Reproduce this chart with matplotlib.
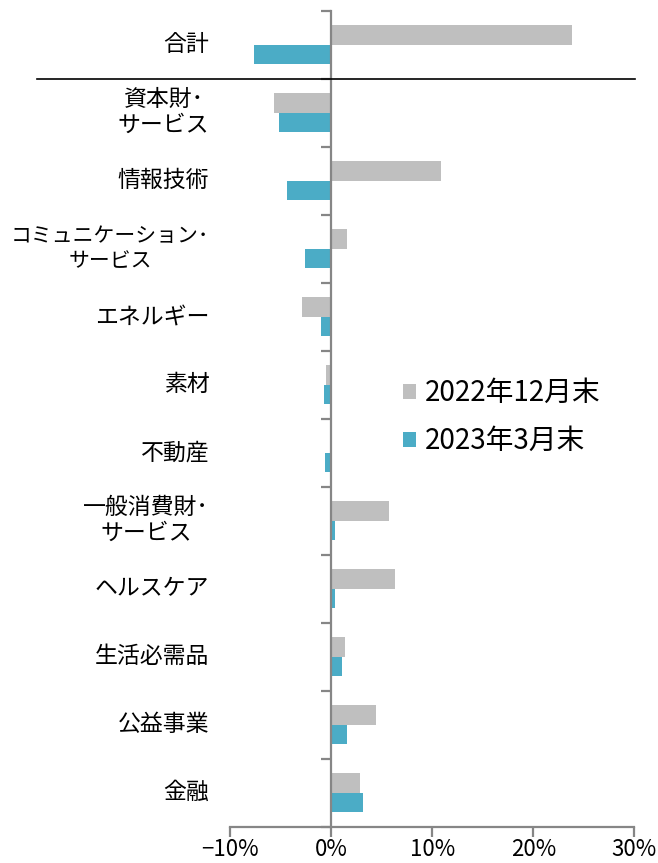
import matplotlib
matplotlib.use("Agg")
import matplotlib.pyplot as plt
import matplotlib.transforms as mtransforms
from matplotlib.patches import Patch
import numpy as np

plt.rcParams['font.family'] = ['Noto Sans CJK JP', 'DejaVu Sans']

# ------------------------------
# DATA (% change)
# ------------------------------
categories = ["合計", "資本財･\nサービス", "情報技術", "コミュニケーション･\nサービス",
              "エネルギー", "素材", "不動産", "一般消費財･\nサービス", "ヘルスケア",
              "生活必需品", "公益事業", "金融"]
dec_2022 = [23.8, -5.7, 10.9, 1.6, -2.9, -0.5, 0.0, 5.7, 6.3, 1.4, 4.4, 2.8]
mar_2023 = [-7.7, -5.2, -4.4, -2.6, -1.0, -0.7, -0.6, 0.4, 0.4, 1.1, 1.6, 3.1]
series_names = ["2022年12月末", "2023年3月末"]
x_ticks = [-10, 0, 10, 20, 30]
x_ticklabels = ["−10%", "0%", "10%", "20%", "30%"]

gray = "#BFBFBF"
blue = "#4BACC6"
axis_col = "#868686"

# ------------------------------
# FIGURE
# ------------------------------
fig = plt.figure(figsize=(6.58, 8.63), dpi=100)
ax = fig.add_axes([0.350, 0.0421, 0.614, 0.9455])

y = np.arange(len(categories))
h = 0.284
ax.barh(y - h / 2, dec_2022, height=h, color=gray, zorder=2)
ax.barh(y + h / 2, mar_2023, height=h, color=blue, zorder=2)

ax.set_xlim(-10, 30)
ax.set_ylim(len(categories) - 0.5, -0.5)

# spines
for s in ["top", "right"]:
    ax.spines[s].set_visible(False)
ax.spines["left"].set_position(("data", 0))
ax.spines["left"].set_color(axis_col)
ax.spines["left"].set_linewidth(1.6)
ax.spines["left"].set_zorder(3)
ax.spines["bottom"].set_color(axis_col)
ax.spines["bottom"].set_linewidth(1.6)

# x ticks
ax.set_xticks(x_ticks)
ax.set_xticklabels(x_ticklabels, fontsize=16)
ax.tick_params(axis="x", direction="out", length=7, width=1.6, color=axis_col, pad=1)

# y ticks at category boundaries only
ax.set_yticks([])
ax.set_yticks(np.arange(-0.5, len(categories), 1.0), minor=True)
ax.tick_params(axis="y", which="minor", direction="out", length=7, width=1.6,
               color=axis_col, labelleft=False)

# category labels at the left of the plot area
trans = mtransforms.blended_transform_factory(ax.transAxes, ax.transData)
for i, lab in enumerate(categories):
    fs = 15 if lab.startswith("コミュ") else 16.5
    ax.text(-0.052, i, lab, transform=trans, ha="right", va="center",
            multialignment="center", fontsize=fs, linespacing=1.15)

# separator line under the total
ax.plot([-0.478, 1.002], [0.5, 0.5], transform=trans, color="black",
        lw=1.2, clip_on=False, zorder=4)

# legend
handles = [Patch(facecolor=gray, edgecolor="none"), Patch(facecolor=blue, edgecolor="none")]
fig.legend(handles, series_names, loc="center left",
           bbox_to_anchor=(0.613, 0.5168), frameon=False, fontsize=20,
           handlelength=0.46, handleheight=0.46, handletextpad=0.3,
           labelspacing=0.65, borderpad=0, borderaxespad=0)

fig.savefig("out.png", dpi=100)
